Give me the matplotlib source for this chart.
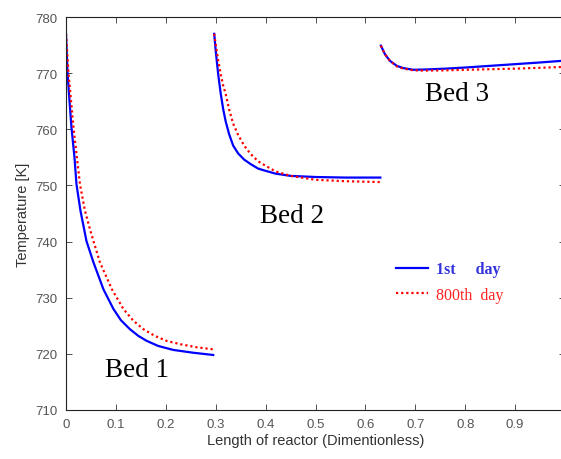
import matplotlib.pyplot as plt

# bed 1
bed1_x = [0, 0.003, 0.006, 0.011, 0.017, 0.021, 0.029, 0.041, 0.055, 0.075, 0.095, 0.11, 0.128, 0.145, 0.162, 0.185, 0.215, 0.255, 0.295]
bed1_day1 = [777, 770.1, 766.3, 760.3, 755.0, 750.2, 745.5, 740.1, 736.3, 731.5, 728.0, 726.0, 724.4, 723.2, 722.3, 721.4, 720.7, 720.2, 719.8]
bed1_x800 = [0, 0.005, 0.015, 0.028, 0.038, 0.048, 0.055, 0.068, 0.092, 0.115, 0.135, 0.155, 0.178, 0.202, 0.23, 0.26, 0.295]
bed1_day800 = [777, 770.0, 760.3, 750.2, 745.5, 742.2, 740.1, 736.3, 731.5, 728.0, 725.9, 724.4, 723.2, 722.3, 721.7, 721.2, 720.8]

# bed 2
bed2_x = [0.297, 0.300, 0.305, 0.310, 0.315, 0.320, 0.327, 0.335, 0.345, 0.357, 0.370, 0.385, 0.40, 0.42, 0.45, 0.50, 0.56, 0.63]
bed2_day1 = [777, 774.0, 769.8, 766.4, 763.6, 761.4, 759.1, 757.1, 755.7, 754.6, 753.8, 753.0, 752.6, 752.1, 751.7, 751.5, 751.4, 751.4]
bed2_day800 = [777, 775.1, 772.3, 769.8, 767.8, 766.3, 763.5, 761.0, 759.0, 757.1, 755.6, 754.3, 753.5, 752.5, 751.7, 751.0, 750.75, 750.6]

# bed 3
bed3_x = [0.631, 0.639, 0.649, 0.663, 0.676, 0.696, 0.72, 0.76, 0.80, 0.85, 0.90, 0.95, 0.995]
bed3_day1 = [774.9, 773.4, 772.2, 771.3, 770.9, 770.6, 770.65, 770.8, 771.0, 771.3, 771.6, 771.9, 772.2]
bed3_day800 = [774.9, 773.4, 772.2, 771.2, 770.8, 770.5, 770.45, 770.5, 770.6, 770.7, 770.8, 770.95, 771.1]

bed_labels = ['Bed 1', 'Bed 2', 'Bed 3']
label_x = [0.143, 0.454, 0.783]
label_y = [717.3, 744.6, 766.3]

fig = plt.figure(figsize=(5.61, 4.6), dpi=100)
ax = fig.add_axes([66 / 561, 1 - 411 / 460, 499 / 561, 393 / 460])

dotted = (0, (1, 1.3))
curves = [(bed1_x, bed1_day1, bed1_x800, bed1_day800),
          (bed2_x, bed2_day1, bed2_x, bed2_day800),
          (bed3_x, bed3_day1, bed3_x, bed3_day800)]
for xs, d1, xs8, d800 in curves:
    l1, = ax.plot(xs, d1, color='#0000ff', lw=1.6)
    l2, = ax.plot(xs8, d800, color='#ff0000', lw=1.6, linestyle=dotted)

for txt, x, y in zip(bed_labels, label_x, label_y):
    ax.text(x, y, txt, family='Liberation Serif', fontsize=19.5, ha='center', va='center')

leg = ax.legend([l1, l2], ['1st     day', '800th  day'], frameon=False,
                loc='center left', bbox_to_anchor=(0.632, 0.325),
                prop={'family': 'Liberation Serif', 'size': 11.5},
                handlelength=2.0, handletextpad=0.5, labelspacing=0.6)
leg.get_texts()[0].set_color('#3333dd')
leg.get_texts()[0].set_fontweight('bold')
leg.get_texts()[1].set_color('#ff2222')

ax.set_xlim(0, 1)
ax.set_ylim(710, 780)
ax.set_xticks([0, 0.1, 0.2, 0.3, 0.4, 0.5, 0.6, 0.7, 0.8, 0.9])
ax.set_xticklabels(['0', '0.1', '0.2', '0.3', '0.4', '0.5', '0.6', '0.7', '0.8', '0.9'])
ax.set_yticks(range(710, 781, 10))
ax.tick_params(direction='in', top=True, right=True, length=4, width=0.6,
               labelsize=9.5, labelcolor='#555555', color='#333333', pad=6)
for lab in ax.get_xticklabels() + ax.get_yticklabels():
    lab.set_family('Liberation Sans')
for s in ax.spines.values():
    s.set_linewidth(0.8)
    s.set_color('#222222')

ax.set_xlabel('Length of reactor (Dimentionless)', family='Liberation Sans', fontsize=10.5, color='#333333', labelpad=2)
ax.set_ylabel('Temperature [K]', family='Liberation Sans', fontsize=10.5, color='#333333', labelpad=4)

fig.savefig('out.png', dpi=100)
